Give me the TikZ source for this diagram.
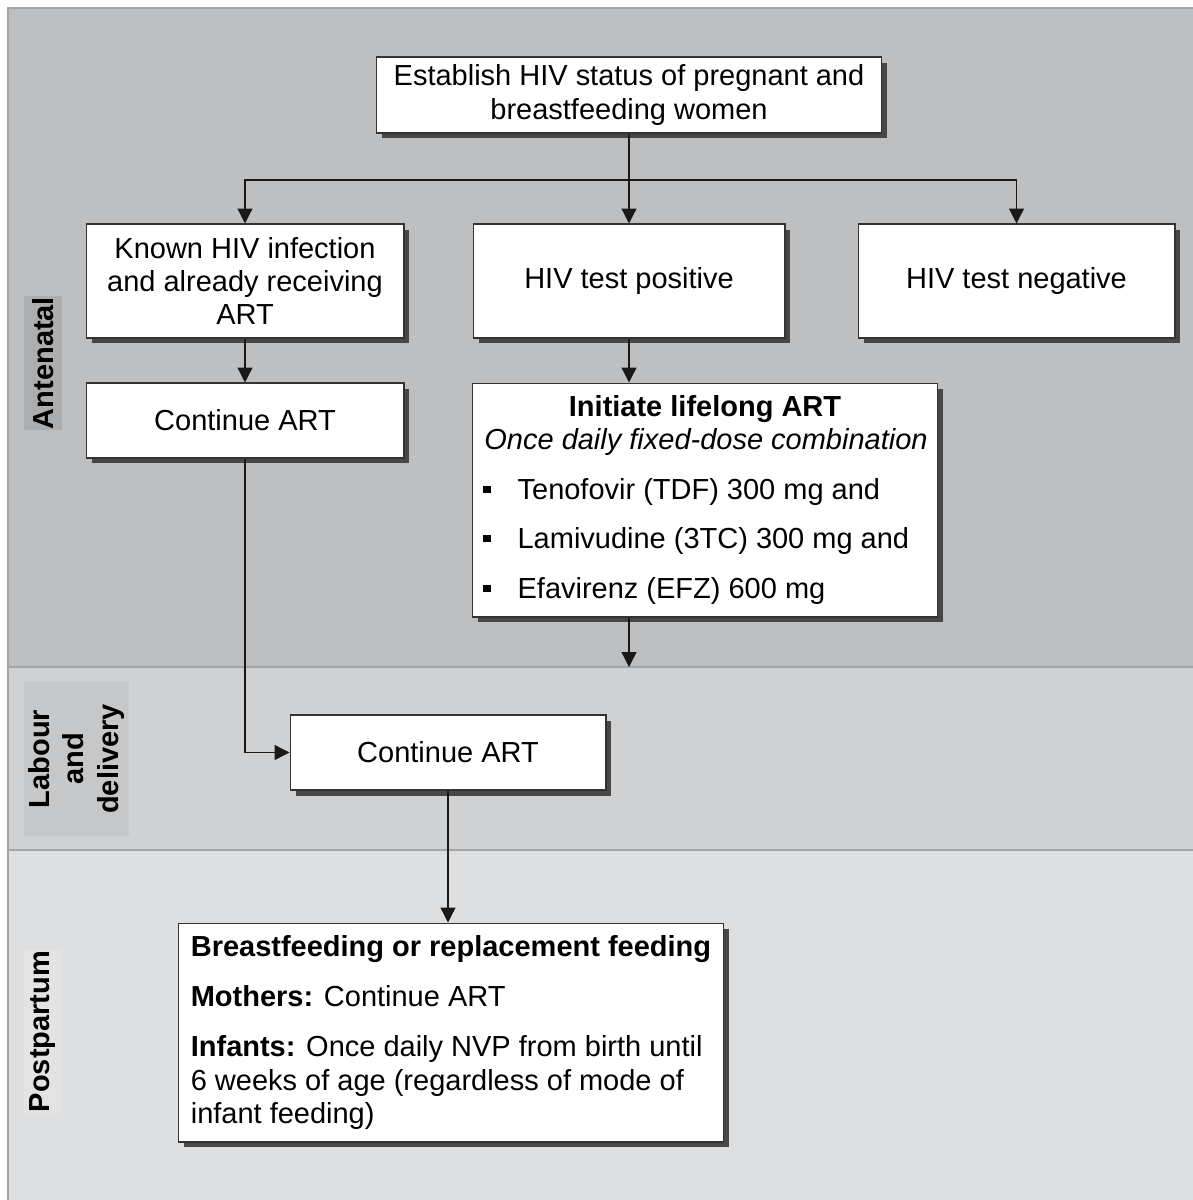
\documentclass[tikz,border=0pt]{standalone}
\usepackage{fontspec}
\setmainfont{Liberation Sans}
\usetikzlibrary{arrows.meta, shadows}

\definecolor{antecol}{HTML}{BEBFC1}
\definecolor{labourcol}{HTML}{D0D1D3}
\definecolor{postcol}{HTML}{DEDFE1}
\definecolor{antetag}{HTML}{ACADAF}
\definecolor{labourtag}{HTML}{C6C7C9}
\definecolor{posttag}{HTML}{E4E3E1}
\definecolor{rulecol}{HTML}{A3A4A6}

\newcommand{\sqbullet}{\raisebox{0.22em}{\rule{4.3pt}{4.3pt}}\hspace{15.2pt}}

\tikzset{
  box/.style={draw=black!80, line width=0.6pt, fill=white, inner sep=0pt, align=center,
    drop shadow={shadow xshift=0.11cm, shadow yshift=-0.11cm, fill=black!72, opacity=1}},
  link/.style={-{Triangle[length=8.5pt, width=8.5pt]}, line width=0.75pt, black!90},
  phase/.style={rotate=90, font=\fontsize{16.5}{19.5}\selectfont\bfseries, inner sep=0pt, align=center}
}

\begin{document}
\begin{tikzpicture}[x=0.02cm, y=-0.02cm, font=\fontsize{16.5}{19}\selectfont]

\useasboundingbox ( 0, 0 ) rectangle ( 1193, 1200 );

% Bands
\fill [antecol] ( 8, 8 ) rectangle ( 1193, 667 );
\fill [labourcol] ( 8, 667 ) rectangle ( 1193, 850 );
\fill [postcol] ( 8, 850 ) rectangle ( 1193, 1200 );
\draw [rulecol, line width=1.2pt] ( 8, 1200 ) -- ( 8, 8 ) -- ( 1193, 8 );
\draw [rulecol, line width=1.2pt] ( 8, 667 ) -- ( 1193, 667 );
\draw [rulecol, line width=1.2pt] ( 8, 850 ) -- ( 1193, 850 );

% Band labels
\node (ante) at ( 43, 363 ) [phase, fill=antetag, minimum width=2.68cm, minimum height=0.76cm] {Antenatal};
\node (labour) at ( 76.5, 759 ) [phase, fill=labourtag, minimum width=3.08cm, minimum height=2.1cm] {Labour\\and\\delivery};
\node (post) at ( 43, 1031.5 ) [phase, fill=posttag, minimum width=3.26cm, minimum height=0.76cm] {Postpartum};

% Boxes
\node (status) at ( 629, 95 ) [box, minimum width=10.1cm, minimum height=1.52cm] {Establish HIV status of pregnant and\\breastfeeding women};

\node (known) at ( 245, 281 ) [box, minimum width=6.36cm, minimum height=2.28cm] {Known HIV infection\\and already receiving\\ART};
\node (pos) at ( 629, 281 ) [box, minimum width=6.24cm, minimum height=2.28cm] {HIV test positive};
\node (neg) at ( 1016.5, 281 ) [box, minimum width=6.34cm, minimum height=2.28cm] {HIV test negative};

\node (contA) at ( 245, 420.5 ) [box, minimum width=6.36cm, minimum height=1.5cm] {Continue ART};

\node (init) at ( 705, 500 ) [box, minimum width=9.32cm, minimum height=4.68cm] {};
\node (initT) at ( 705, 409 ) {\bfseries Initiate lifelong ART};
\node (initS) at ( 706, 442 ) {\itshape Once daily fixed-dose combination};
\node (tdf) at ( 483, 492 ) [anchor=west, inner sep=0pt] {\sqbullet Tenofovir (TDF) 300 mg and};
\node (tc) at ( 483, 541 ) [anchor=west, inner sep=0pt] {\sqbullet Lamivudine (3TC) 300 mg and};
\node (efz) at ( 483, 591 ) [anchor=west, inner sep=0pt] {\sqbullet Efavirenz (EFZ) 600 mg};

\node (contB) at ( 448, 752.5 ) [box, minimum width=6.32cm, minimum height=1.5cm] {Continue ART};

\node (feed) at ( 451, 1032.5 ) [box, align=left, minimum width=10.92cm, minimum height=4.38cm]
  {\textbf{Breastfeeding or replacement feeding}\\[9.5pt]
   \textbf{Mothers:} Continue ART\\[9.5pt]
   \textbf{Infants:} Once daily NVP from birth until\\
   6 weeks of age (regardless of mode of\\
   infant feeding)};

% Arrows
\coordinate (split) at ( 629, 180 );
\coordinate (birth) at ( 629, 667 );

\draw [link] (status.south) -- (pos.north);
\draw [link] (split) -| (known.north);
\draw [link] (split) -| (neg.north);
\draw [link] (known.south) -- (contA.north);
\draw [link] (pos.south) -- (pos.south |- init.north);
\draw [link] (birth |- init.south) -- (birth);
\draw [link] (contA.south) |- (contB.west);
\draw [link] (contB.south) -- (contB.south |- feed.north);

\end{tikzpicture}
\end{document}
